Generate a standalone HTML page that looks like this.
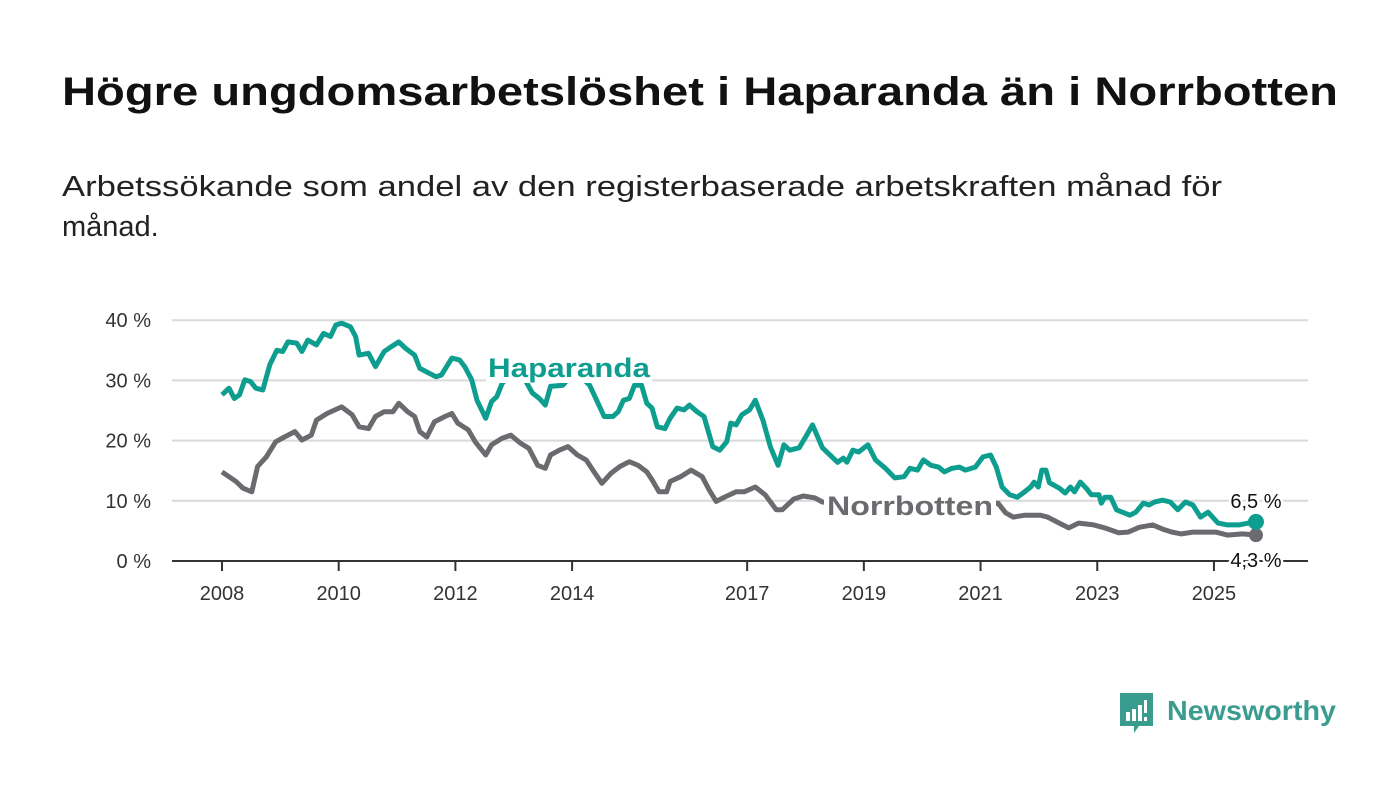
<!DOCTYPE html>
<html><head><meta charset="utf-8"><style>
html,body{margin:0;padding:0;background:#fff;}
svg{display:block;font-family:"Liberation Sans",sans-serif;}
</style></head><body>
<svg id="chart" width="1400" height="794" viewBox="0 0 1400 794">
<text x="62" y="105" font-size="40" font-weight="bold" fill="#111" textLength="1276" lengthAdjust="spacingAndGlyphs">Högre ungdomsarbetslöshet i Haparanda än i Norrbotten</text>
<text x="62" y="196" font-size="29" fill="#222" textLength="1160" lengthAdjust="spacingAndGlyphs">Arbetssökande som andel av den registerbaserade arbetskraften månad för</text>
<text x="62" y="236" font-size="29" fill="#222">månad.</text>
<g id="grid"></g><g id="lines"></g><g id="labels"></g>
<g>
<path d="M1120 693 h33 v33 h-14 l-5 7 v-7 h-14 z" fill="#3a9b8f"/>
<rect x="1126" y="712" width="4" height="9" fill="#fff"/><rect x="1132" y="709" width="4" height="12" fill="#fff"/><rect x="1138" y="705" width="4" height="16" fill="#fff"/><rect x="1144" y="700" width="3" height="13" fill="#fff"/><rect x="1144" y="717" width="3" height="4" fill="#fff"/>
<text x="1167" y="720" font-size="28" font-weight="bold" fill="#3a9b8f" textLength="169" lengthAdjust="spacingAndGlyphs">Newsworthy</text>
</g>
</svg>
<script>
const hapYears=[2008.00,2008.12,2008.21,2008.30,2008.39,2008.49,2008.58,2008.70,2008.82,2008.94,2009.04,2009.13,2009.28,2009.37,2009.47,2009.62,2009.74,2009.86,2009.95,2010.05,2010.20,2010.29,2010.35,2010.51,2010.63,2010.78,2010.90,2011.03,2011.15,2011.30,2011.39,2011.51,2011.67,2011.76,2011.94,2012.07,2012.16,2012.28,2012.37,2012.52,2012.62,2012.71,2012.80,2012.94,2013.11,2013.32,2013.44,2013.54,2013.63,2013.84,2014.05,2014.30,2014.55,2014.70,2014.79,2014.88,2014.98,2015.07,2015.19,2015.28,2015.37,2015.46,2015.59,2015.68,2015.80,2015.92,2016.01,2016.14,2016.26,2016.41,2016.53,2016.65,2016.72,2016.81,2016.91,2017.04,2017.14,2017.27,2017.40,2017.53,2017.63,2017.73,2017.89,2017.99,2018.12,2018.29,2018.42,2018.55,2018.65,2018.71,2018.81,2018.91,2019.07,2019.20,2019.37,2019.53,2019.69,2019.79,2019.92,2020.02,2020.15,2020.28,2020.38,2020.51,2020.64,2020.74,2020.91,2021.04,2021.17,2021.27,2021.37,2021.50,2021.63,2021.73,2021.86,2021.92,2021.99,2022.05,2022.12,2022.18,2022.35,2022.45,2022.54,2022.61,2022.71,2022.81,2022.90,2023.03,2023.07,2023.13,2023.23,2023.33,2023.43,2023.56,2023.66,2023.79,2023.89,2023.98,2024.12,2024.25,2024.38,2024.51,2024.64,2024.77,2024.90,2025.07,2025.23,2025.43,2025.59,2025.72];
const hapValues=[27.6,28.7,27.0,27.6,30.1,29.8,28.7,28.4,32.6,35.0,34.8,36.4,36.2,34.8,36.7,35.9,37.8,37.3,39.2,39.5,38.9,37.3,34.2,34.5,32.3,34.8,35.6,36.4,35.3,34.2,32.0,31.4,30.6,30.9,33.7,33.4,32.3,30.1,26.7,23.7,26.5,27.3,29.5,31.0,31.5,27.9,27.0,25.9,29.0,29.2,31.5,29.2,24.0,24.0,24.8,26.7,27.0,29.2,29.2,26.2,25.4,22.3,22.0,23.7,25.4,25.1,25.9,24.8,24.0,19.0,18.4,19.8,22.9,22.6,24.3,25.1,26.7,23.4,18.9,15.9,19.3,18.4,18.8,20.4,22.6,18.8,17.6,16.4,17.1,16.4,18.4,18.1,19.3,16.8,15.4,13.8,14.0,15.4,15.1,16.8,15.9,15.6,14.8,15.4,15.6,15.1,15.6,17.3,17.6,15.6,12.3,11.0,10.6,11.3,12.3,13.1,12.3,15.1,15.1,13.0,12.1,11.3,12.3,11.5,13.1,12.1,11.0,11.0,9.6,10.6,10.6,8.5,8.1,7.6,8.1,9.6,9.3,9.8,10.1,9.8,8.5,9.8,9.3,7.3,8.1,6.3,6.0,6.0,6.3,6.5];
const norYears=[2008.00,2008.24,2008.36,2008.51,2008.61,2008.76,2008.92,2009.07,2009.25,2009.37,2009.53,2009.62,2009.80,2010.05,2010.23,2010.35,2010.51,2010.63,2010.78,2010.93,2011.03,2011.18,2011.30,2011.39,2011.51,2011.64,2011.82,2011.94,2012.04,2012.22,2012.34,2012.52,2012.62,2012.80,2012.95,2013.11,2013.26,2013.41,2013.54,2013.63,2013.78,2013.93,2014.09,2014.24,2014.39,2014.51,2014.67,2014.82,2014.98,2015.13,2015.28,2015.37,2015.49,2015.62,2015.68,2015.86,2016.04,2016.23,2016.35,2016.47,2016.63,2016.81,2016.95,2017.14,2017.31,2017.50,2017.60,2017.80,2017.96,2018.16,2018.29,2018.76,2019.62,2020.48,2021.30,2021.43,2021.56,2021.76,2022.02,2022.15,2022.35,2022.51,2022.68,2022.94,2023.13,2023.36,2023.53,2023.72,2023.95,2024.12,2024.28,2024.44,2024.64,2024.84,2025.03,2025.23,2025.49,2025.72];
const norValues=[14.8,13.2,12.1,11.5,15.7,17.3,19.8,20.6,21.5,20.1,20.9,23.4,24.5,25.6,24.3,22.3,22.0,24.0,24.8,24.8,26.2,24.8,24.0,21.5,20.6,23.1,24.0,24.5,22.9,21.8,19.8,17.6,19.3,20.4,20.9,19.6,18.7,15.9,15.4,17.6,18.4,19.0,17.6,16.8,14.6,12.9,14.6,15.7,16.5,15.9,14.8,13.5,11.5,11.5,13.2,14.0,15.1,14.0,11.8,9.9,10.7,11.5,11.5,12.3,11.0,8.5,8.5,10.3,10.8,10.5,9.8,9.4,9.0,9.2,9.6,8.0,7.3,7.6,7.6,7.3,6.3,5.5,6.3,6.0,5.5,4.7,4.8,5.6,6.0,5.3,4.8,4.5,4.8,4.8,4.8,4.3,4.5,4.3];
const yTicks=[0,10,20,30,40];
const yTickLabels=["0 %","10 %","20 %","30 %","40 %"];
const xTicks=[2008,2010,2012,2014,2017,2019,2021,2023,2025];
const endLabels=["6,5 %","4,3 %"];

const NS="http://www.w3.org/2000/svg";
const X=y=>222+(y-2008)*58.35;
const Y=v=>561-v*6.02;
function mk(tag,attrs,parent){const e=document.createElementNS(NS,tag);for(const k in attrs)e.setAttribute(k,attrs[k]);parent.appendChild(e);return e;}
const grid=document.getElementById('grid'),lines=document.getElementById('lines'),labels=document.getElementById('labels');
yTicks.forEach((t,i)=>{
  if(t>0){const g=mk('line',{x1:172,x2:1308,y1:Y(t),y2:Y(t),stroke:'#d9d9d9','stroke-width':2},grid);
  
  }
  const tx=mk('text',{x:151,y:Y(t)+7,'font-size':20,fill:'#333','text-anchor':'end'},grid);tx.textContent=yTickLabels[i];
  
  
});
const ax=mk('line',{x1:172,x2:1308,y1:561,y2:561,stroke:'#333','stroke-width':2},grid);


xTicks.forEach(t=>{
  mk('line',{x1:X(t),x2:X(t),y1:561,y2:571,stroke:'#333','stroke-width':2},grid);
  const tx=mk('text',{x:X(t),y:600,'font-size':20,fill:'#333','text-anchor':'middle'},grid);tx.textContent=t;
  
  
});
function path(ys,vs){return ys.map((y,i)=>(i?'L':'M')+X(y).toFixed(1)+' '+Y(vs[i]).toFixed(1)).join(' ');}
const nl=mk('path',{d:path(norYears,norValues),fill:'none',stroke:'#6b6b6f','stroke-width':5,'stroke-linejoin':'round'},lines);


const hl=mk('path',{d:path(hapYears,hapValues),fill:'none',stroke:'#0e9e8f','stroke-width':5,'stroke-linejoin':'round'},lines);


const hn=hapYears.length-1,nn=norYears.length-1;
const nd=mk('circle',{cx:X(norYears[nn]),cy:Y(norValues[nn]),r:7,fill:'#6b6b6f'},lines);


const hd=mk('circle',{cx:X(hapYears[hn]),cy:Y(hapValues[hn]),r:8,fill:'#0e9e8f'},lines);


// series labels with white background
mk('rect',{x:486,y:350,width:166,height:33,fill:'#fff'},labels);
const hlab=mk('text',{x:488,y:377,'font-size':27,'font-weight':'bold',fill:'#0e9e8f',textLength:162,lengthAdjust:'spacingAndGlyphs'},labels);hlab.textContent='Haparanda';


mk('rect',{x:824,y:488,width:172,height:32,fill:'#fff'},labels);
const nlab=mk('text',{x:827,y:515,'font-size':27,'font-weight':'bold',fill:'#6b6b6f',textLength:166,lengthAdjust:'spacingAndGlyphs'},labels);nlab.textContent='Norrbotten';


const e1=mk('text',{x:X(hapYears[hn]),y:Y(hapValues[hn])-14,'font-size':20,fill:'#111','text-anchor':'middle',stroke:'#fff','stroke-width':5,'paint-order':'stroke'},labels);e1.textContent=endLabels[0];


const e2=mk('text',{x:X(norYears[nn]),y:Y(norValues[nn])+32,'font-size':20,fill:'#111','text-anchor':'middle',stroke:'#fff','stroke-width':5,'paint-order':'stroke'},labels);e2.textContent=endLabels[1];


</script>
</body></html>
